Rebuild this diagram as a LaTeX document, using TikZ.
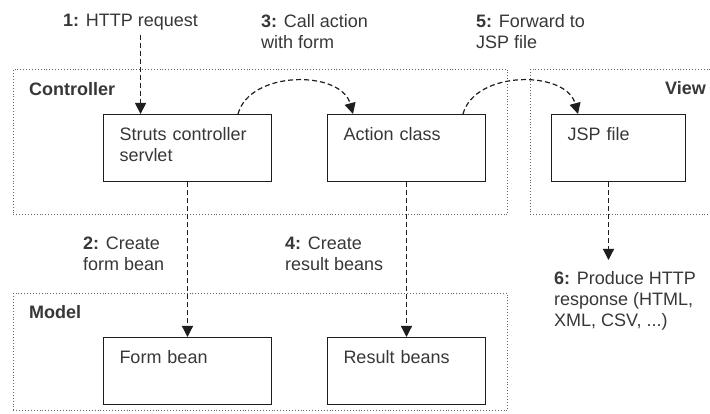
\documentclass[tikz,border=0pt]{standalone}
\usepackage{fontspec}
\setmainfont{Liberation Sans}
\usepackage{tikz}
\usetikzlibrary{
    arrows.meta,
    positioning,
    calc
}
\definecolor{InkGray}{RGB}{30,30,30}
\definecolor{TextGray}{RGB}{55,55,55}
\definecolor{FrameGray}{RGB}{100,100,100}
\tikzset{
  box/.style      = {draw=InkGray, line width=1pt, anchor=north west, align=left,
                     inner xsep=16pt, inner ysep=0pt, text height=26pt, text depth=41pt},
  group/.style    = {draw=FrameGray, dotted, line width=0.9pt, anchor=north west,
                     inner sep=0pt},
  grouplbl/.style = {anchor=base west, inner sep=0pt, font=\fontsize{18pt}{21pt}\selectfont\bfseries},
  steplbl/.style  = {anchor=north west, align=left, inner sep=0pt},
  flow/.style     = {-{Triangle[length=11pt, width=11pt]}, dash pattern=on 5pt off 3pt,
                     line width=1.2pt, InkGray}
}

\begin{document}
\begin{tikzpicture}[
    x=1pt, y=-1pt,
    every node/.style={font=\fontsize{18pt}{21pt}\selectfont, text=TextGray}
]
\useasboundingbox (0,0) rectangle (710,414);
\clip (0,0) rectangle (710,414);

% tiers
\node[group, minimum width=494pt, minimum height=145pt] (ctrl) at (13,69) {};
\node[group, minimum width=190pt, minimum height=145pt] (view) at (530,69) {};
\node[group, minimum width=494pt, minimum height=117pt] (model) at (13,293) {};
\node[grouplbl] at ([shift={(16pt,-27pt)}]ctrl.north west) {Controller};
\node[grouplbl] at ([shift={(135pt,-26pt)}]view.north west) {View};
\node[grouplbl] at ([shift={(16pt,-26pt)}]model.north west) {Model};

% components
\node[box, text width=136pt] (struts) at (103,114) {Struts controller\\servlet};
\node[box, text width=126pt] (action) at (327,114) {Action class};
\node[box, text width=102pt] (jsp) at (551,114) {JSP file};
\node[box, text width=136pt] (form) at (103,337) {Form bean};
\node[box, text width=126pt] (result) at (327,337) {Result beans};

% steps
\node[steplbl] (s1) at (63,14) {\textbf{1:} HTTP request};
\node[steplbl] (s3) at (261,14) {\textbf{3:} Call action\\with form};
\node[steplbl] (s5) at (476,14) {\textbf{5:} Forward to\\JSP file};
\node[steplbl] (s2) at (83,237) {\textbf{2:} Create\\form bean};
\node[steplbl] (s4) at (285,237) {\textbf{4:} Create\\result beans};
\node[steplbl] (s6) at (554,271) {\textbf{6:} Produce HTTP\\response (HTML,\\XML, CSV, ...)};

\coordinate (req) at ([xshift=10pt, yshift=-4pt]s1.south);
\coordinate (resp) at ([xshift=-10pt]jsp.south |- 0,260);

\draw[flow] (req) -- (req |- struts.north);
\draw[flow] (struts.south) -- (form.north);
\draw[flow] ([xshift=-34pt]struts.north east) .. controls +(12,-44) and +(-12,-44)
    .. ([xshift=26pt]action.north west);
\draw[flow] (action.south) -- (result.north);
\draw[flow] ([xshift=-23pt]action.north east) .. controls +(12,-44) and +(-12,-44)
    .. ([xshift=27pt]jsp.north west);
\draw[flow] ([xshift=-10pt]jsp.south) -- (resp);
\end{tikzpicture}
\end{document}
